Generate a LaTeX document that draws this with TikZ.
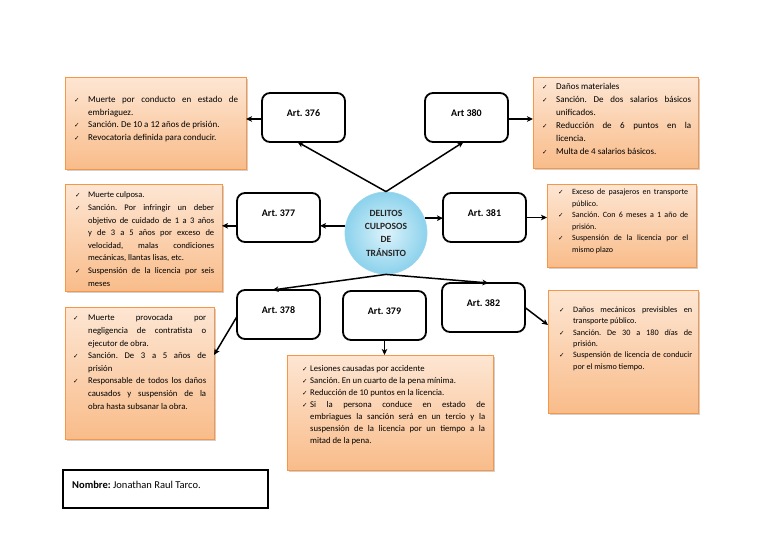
\documentclass[tikz,border=0pt]{standalone}
\usepackage{fontspec}
\setmainfont{Carlito}
\newfontfamily\symf{DejaVu Sans}
\usetikzlibrary{calc,shadows,arrows.meta}
\definecolor{obord}{HTML}{F79646}
\definecolor{otop}{HTML}{FDE6D3}
\definecolor{obot}{HTML}{F9BC8A}
\definecolor{cin}{HTML}{DDF3FB}
\definecolor{cout}{HTML}{8CD2EC}
\definecolor{cbord}{HTML}{9AD6EE}
\tolerance=10000 \hbadness=10000 \hyphenpenalty=10000 \exhyphenpenalty=10000
\frenchspacing
\newcommand\chkmark{{\symf\fontsize{6.5}{6.5}\selectfont ✓}}
\newenvironment{chk}[2]{\begin{list}{\chkmark}{\setlength\leftmargin{#2}%
  \setlength\labelwidth{\dimexpr#2-#1\relax}\setlength\labelsep{0pt}%
  \setlength\itemsep{0pt}\setlength\parsep{0pt}\setlength\topsep{0pt}%
  \setlength\partopsep{0pt}\setlength\itemindent{0pt}\setlength\rightmargin{0pt}%
  \renewcommand\makelabel[1]{##1\hfil}}}{\end{list}}
\begin{document}
\begin{tikzpicture}[x=1pt,y=-1pt,
  artbox/.style={draw=black, line width=1.8pt, rounded corners=8pt, fill=white,
    minimum width=83pt, minimum height=49pt, inner sep=0pt, outer sep=0pt, anchor=north west},
  artlbl/.style={font=\bfseries\fontsize{10}{12}\selectfont, inner sep=0pt},
  detbox/.style={draw=obord, line width=0.8pt, top color=otop, bottom color=obot,
    drop shadow={shadow xshift=1.5pt, shadow yshift=-1.5pt, opacity=0.3, fill=black!60},
    inner sep=0pt, outer sep=0pt, anchor=north west},
  dettext/.style={anchor=north west, inner sep=0pt, align=justify},
  circ/.style={circle, draw=cbord, line width=0.8pt, inner color=cin, outer color=cout,
    minimum size=82pt, inner sep=0pt, align=center,
    font=\bfseries\fontsize{9.5}{13.3}\selectfont, text=black!85},
  namebox/.style={draw=black, line width=1.5pt, minimum width=205pt, minimum height=38pt,
    anchor=north west, inner sep=0pt, outer sep=0pt},
  arr/.style={line width=1.5pt, -{Stealth[length=6pt,width=5.5pt,inset=1.5pt]}}
]
\fill[white] (0,0) rectangle (768,544);
\useasboundingbox (0,0) rectangle (768,544);

% central circle
\node[circ] (c) at (386,233) {DELITOS\\CULPOSOS\\DE\\TRÁNSITO};

% article boxes
\node[artbox] (a376) at (262,93) {};
\node[artlbl] (a376t) at ($(a376.north)+(0,20)$) {Art. 376};
\node[artbox] (a380) at (425,93) {};
\node[artlbl] (a380t) at ($(a380.north)+(0,20)$) {Art 380};
\node[artbox] (a377) at (237,193) {};
\node[artlbl] (a377t) at ($(a377.north)+(0,20)$) {Art. 377};
\node[artbox] (a381) at (443,193) {};
\node[artlbl] (a381t) at ($(a381.north)+(0,20)$) {Art. 381};
\node[artbox] (a378) at (237,290) {};
\node[artlbl] (a378t) at ($(a378.north)+(0,20)$) {Art. 378};
\node[artbox] (a379) at (343,291) {};
\node[artlbl] (a379t) at ($(a379.north)+(0,20)$) {Art. 379};
\node[artbox] (a382) at (442,283) {};
\node[artlbl] (a382t) at ($(a382.north)+(0,20)$) {Art. 382};

% detail boxes
\node[detbox, minimum width=181pt, minimum height=92pt] (d376) at (65,77) {};
\node[dettext, text width=173pt, font=\fontsize{9}{12.7}\selectfont] (d376t) at (65,89.5) {%
\begin{chk}{9pt}{23pt}
\item Muerte por conducto en estado de \linebreak embriaguez.
\item Sanción. De 10 a 12 años de prisión.
\item Revocatoria definida para conducir.
\end{chk}};

\node[detbox, minimum width=165pt, minimum height=91pt] (d380) at (533,77) {};
\node[dettext, text width=158pt, font=\fontsize{9}{13}\selectfont] (d380t) at (533,76.5) {%
\begin{chk}{9pt}{23pt}
\item Daños materiales
\item Sanción. De dos salarios básicos \linebreak unificados.
\item Reducción de 6 puntos en la \linebreak licencia.
\item Multa de 4 salarios básicos.
\end{chk}};

\node[detbox, minimum width=157pt, minimum height=107pt] (d377) at (65,184) {};
\node[dettext, text width=149pt, font=\fontsize{8.5}{12.6}\selectfont] (d377t) at (65,185) {%
\begin{chk}{10pt}{23pt}
\item Muerte culposa.
\item Sanción. Por infringir un deber \linebreak objetivo de cuidado de 1 a 3 años \linebreak y de 3 a 5 años por exceso de \linebreak velocidad, malas condiciones \linebreak mecánicas, llantas lisas, etc.
\item Suspensión de la licencia por seis \linebreak meses
\end{chk}};

\node[detbox, minimum width=149pt, minimum height=83pt] (d381) at (547,184) {};
\node[dettext, text width=141pt, font=\fontsize{8}{11.5}\selectfont] (d381t) at (547,183) {%
\begin{chk}{11pt}{25pt}
\item Exceso de pasajeros en transporte \linebreak público.
\item Sanción. Con 6 meses a 1 año de \linebreak prisión.
\item Suspensión de la licencia por el \linebreak mismo plazo
\end{chk}};

\node[detbox, minimum width=149pt, minimum height=132pt] (d378) at (65,307) {};
\node[dettext, text width=141pt, font=\fontsize{8.7}{12.6}\selectfont] (d378t) at (65,308) {%
\begin{chk}{8pt}{23pt}
\item Muerte provocada por \linebreak negligencia de contratista o \linebreak ejecutor de obra.
\item Sanción. De 3 a 5 años de \linebreak prisión
\item Responsable de todos los daños \linebreak causados y suspensión de la \linebreak obra hasta subsanar la obra.
\end{chk}};

\node[detbox, minimum width=206pt, minimum height=115pt] (d379) at (287,355) {};
\node[dettext, text width=198pt, font=\fontsize{8.7}{12}\selectfont] (d379t) at (287,359) {%
\begin{chk}{15pt}{23pt}
\item Lesiones causadas por accidente
\item Sanción. En un cuarto de la pena mínima.
\item Reducción de 10 puntos en la licencia.
\item Si la persona conduce en estado de \linebreak embriagues la sanción será en un tercio y la \linebreak suspensión de la licencia por un tiempo a la \linebreak mitad de la pena.
\end{chk}};

\node[detbox, minimum width=150pt, minimum height=123pt] (d382) at (548,290) {};
\node[dettext, text width=144pt, font=\fontsize{8.2}{11.3}\selectfont] (d382t) at (548,301) {%
\begin{chk}{11pt}{25pt}
\item Daños mecánicos previsibles en \linebreak transporte público.
\item Sanción. De 30 a 180 días de \linebreak prisión.
\item Suspensión de licencia de conducir \linebreak por el mismo tiempo.
\end{chk}};

% name box
\node[namebox] (nb) at (63,470) {};
\node[anchor=west, inner sep=0pt, font=\fontsize{10.5}{12}\selectfont] (nbt) at (72,485) {\textbf{Nombre:} Jonathan Raul Tarco.};

% connectors from the circle
\draw[arr] (c.north) -- ($(a376.south)+(-6,0)$);
\draw[arr] (c.north) -- ($(a380.south)+(-3,0)$);
\draw[arr] (c.170) -- (c.170 -| a377.east);
\draw[arr] (c.21) -- (c.21 -| a381.west);
\draw[arr] (c.south) -- ($(a378.north)+(-6,0)$);
\draw[arr] (c.south) -- ($(a382.north)+(5,0)$);

% connectors to the detail boxes
\draw[arr] ($(a376.west)+(0,1.5)$) -- ($(a376.west -| d376.east)+(0,1.5)$);
\draw[arr] ($(a380.east)+(0,1.5)$) -- ($(a380.east -| d380.west)+(0,1.5)$);
\draw[arr] (a377.west |- c.170) -- (d377.east |- c.170);
\draw[arr] (a381.east) -- (a381.east -| d381.west);
\draw[arr] ($(a378.west)+(0,2)$) -- ($(d378.north east)+(0,48)$);
\draw[arr] (a379.south) -- (a379.south |- d379.north);
\draw[arr] (a382.east) -- ($(d382.north west)+(0,35)$);
\end{tikzpicture}
\end{document}
